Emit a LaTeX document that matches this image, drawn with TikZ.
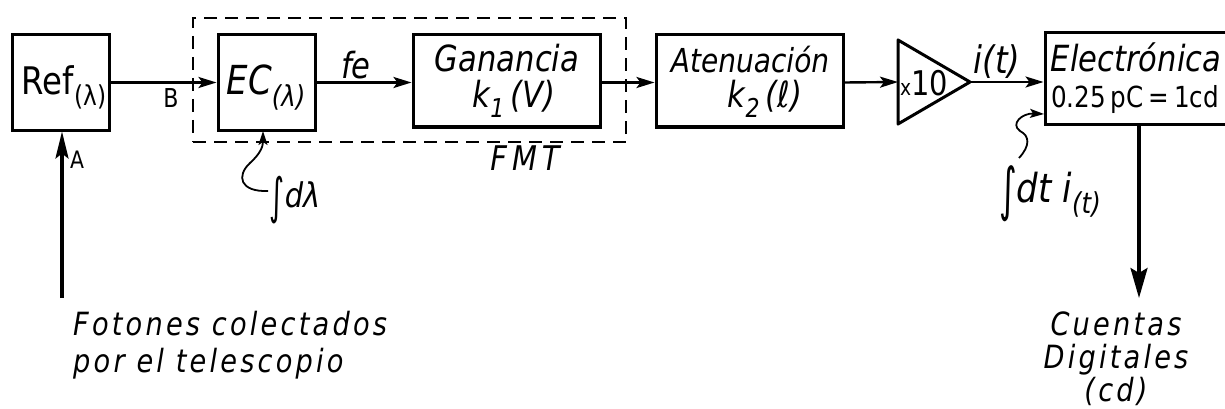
\documentclass[tikz,border=0pt]{standalone}
\usepackage{fontspec}
\usepackage{graphicx}
\setmainfont{DejaVu Sans}[FakeStretch=0.85]
\newfontfamily\lblfont{DejaVu Sans}[FakeStretch=0.85,LetterSpace=10]
\usetikzlibrary{arrows.meta}
\newcommand{\sbs}[1]{\raisebox{-0.28em}{\scalebox{0.72}{#1}}}
\newcommand{\tallint}{\raisebox{-0.18em}{\scalebox{1}[1.45]{∫}}}
\tikzset{
  box/.style={draw, line width=3pt, inner sep=0pt},
  conn/.style={line width=2.4pt, -{Stealth[length=18pt,width=11pt,inset=4pt]}},
  vconn/.style={line width=3.2pt, -{Stealth[length=27pt,width=13pt,inset=5pt]}},
  bigconn/.style={line width=3.2pt, -{Stealth[length=30pt,width=17pt,inset=5pt]}},
  curv/.style={line width=1.8pt, -{Stealth[length=14pt,width=9pt,inset=3pt]}},
  lbl/.style={inner sep=0pt, anchor=base},
  fmtbox/.style={draw, line width=2.8pt, dash pattern=on 13pt off 8pt, inner sep=0pt}
}
\begin{document}
\begin{tikzpicture}[x=1pt,y=-1pt]
\useasboundingbox (0,0) rectangle (1225,409);
\clip (0,0) rectangle (1225,409);
% dashed FMT box
\node[fmtbox, minimum width=433pt, minimum height=124pt] (fmt) at (409.5,80) {};
% boxes
\node[box, fill=white, minimum width=97pt, minimum height=95pt] (ref) at (60.5,82.5) {};
\node[box, fill=white, minimum width=97pt, minimum height=95pt] (ec) at (266.5,82.5) {};
\node[box, fill=white, minimum width=187pt, minimum height=92pt] (gan) at (506.5,81) {};
\node[box, fill=white, minimum width=187pt, minimum height=92pt] (ate) at (749.5,81) {};
\node[box, fill=white, minimum width=188pt, minimum height=92pt] (ele) at (1139,79) {};
% amplifier triangle
\coordinate (tl) at (898,82);
\coordinate (tip) at (970,82);
\coordinate (ttop) at (898,40);
\coordinate (tbot) at (898,124);
\draw[line width=3pt, line join=round] (ttop) -- (tip) -- (tbot) -- cycle;
% texts in boxes
\node[lbl, font=\fontsize{38}{40}\selectfont] (reft) at (64,95) {Ref\sbs{(λ)}};
\node[lbl, font=\fontsize{40}{40}\selectfont\itshape] (ect) at (266,95) {EC\sbs{(λ)}};
\node[lbl, font=\fontsize{36}{36}\selectfont\itshape] (gant) at (507,72) {Ganancia};
\node[lbl, font=\fontsize{36}{36}\selectfont\itshape] (gank) at (514,107) {k\sbs{1}\,(V)};
\node[lbl, font=\fontsize{33}{33}\selectfont\itshape] (atet) at (750,73) {Atenuación};
\node[lbl, font=\fontsize{36}{36}\selectfont\itshape] (atek) at (765,107) {k\sbs{2}\,(ℓ)};
\node[lbl, font=\fontsize{36}{36}\selectfont\itshape] (elet) at (1136,72) {Electrónica};
\node[lbl, font=\fontsize{29}{29}\selectfont] (elec) at (1135,107) {0.25\,pC\,=\,1cd};
\node[lbl] (x10) at (924,96) {{\fontsize{22}{22}\selectfont x}{\fontsize{34}{34}\selectfont 10}};
% connectors
\draw[conn] (ref.east) -- (ec.west);
\draw[conn] (ec.east) -- (gan.west |- ec.east);
\draw[conn] (gan.east |- ec.east) -- (ate.west |- ec.east);
\draw[conn] (ate.east |- ec.east) -- (tl);
\draw[conn] (tip) -- (ele.west |- tip);
\coordinate (phot) at (62,298);
\draw[vconn] (phot) -- (phot |- ref.south);
\coordinate (cd) at (1139,298);
\draw[bigconn] (ele.south) -- (cd);
% connector labels
\node[lbl, font=\fontsize{26}{26}\selectfont] (lB) at (171,107) {B};
\node[lbl, font=\fontsize{24}{24}\selectfont] (lA) at (77,168) {A};
\node[lbl, font=\fontsize{36}{36}\selectfont\itshape] (lfe) at (356,79) {fe};
\node[lbl, font=\fontsize{38}{38}\selectfont\itshape] (lit) at (997,74) {i(t)};
\node[lbl, font=\fontsize{34}{34}\selectfont\itshape] (lfmt) at (525,170) {F\hspace{5pt}M\hspace{5pt}T};
% integral annotations
\node[lbl, font=\fontsize{34}{34}\selectfont\itshape] (ldl) at (295,207) {\tallint dλ};
\node[lbl, font=\fontsize{40}{40}\selectfont\itshape] (ldt) at (1050,202) {\tallint dt i\sbs{(t)}};
\coordinate (dlstart) at (268,191);
\coordinate (ectip) at (263,131);
\draw[curv] (dlstart) .. controls (240,192) and (236,176) .. (250,163) .. controls (261,153) and (263,146) .. (ectip);
\coordinate (dtstart) at (1019,158);
\coordinate (eletip) at (1044,114);
\draw[curv] (dtstart) .. controls (1030,146) and (1030,136) .. (1020,131) .. controls (1010,124) and (1022,113) .. (eletip);
% bottom labels
\node[inner sep=0pt, anchor=north west, align=left, font=\fontsize{32}{37}\selectfont\lblfont\itshape] (fot) at (73,311) {Fotones colectados\\por el telescopio};
\node[inner sep=0pt, anchor=north, align=center, font=\fontsize{32}{33}\selectfont\lblfont\itshape] (cue) at (1116,312) {Cuentas\\Digitales\\(cd)};
\end{tikzpicture}
\end{document}
